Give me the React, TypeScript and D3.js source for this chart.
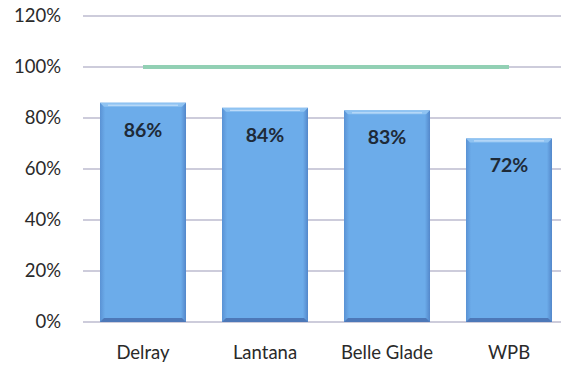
import React from "react";
import * as d3 from "d3";

const categories = ["Delray", "Lantana", "Belle Glade", "WPB"];
const values = [86, 84, 83, 72];
const valueLabels = ["86%", "84%", "83%", "72%"];
const targetValue = 100;
const yTicks = [0, 20, 40, 60, 80, 100, 120];

const W = 561;
const H = 366;
const FONT = "Lato, 'Open Sans', sans-serif";

export default function App() {
  const x = d3.scaleBand<string>().domain(categories).range([82, 570]).paddingInner(0.295).paddingOuter(0.1475);
  const y = d3.scaleLinear().domain([0, 120]).range([322, 16]);
  const bw = x.bandwidth();
  const first = (x(categories[0]) ?? 0) + bw / 2;
  const last = (x(categories[categories.length - 1]) ?? 0) + bw / 2;
  const bev = 4;

  return (
    <svg width={W} height={H} style={{ position: "absolute", left: 0, top: 0, background: "#fff" }}>
      <defs>
        <linearGradient id="barH" x1="0" x2="1" y1="0" y2="0">
          <stop offset="0" stopColor="#5a92d4" />
          <stop offset="0.06" stopColor="#6cacea" />
          <stop offset="0.94" stopColor="#6cacea" />
          <stop offset="1" stopColor="#5387ca" />
        </linearGradient>
      </defs>
      {yTicks.map((t) => (
        <g key={t}>
          <line x1={83} x2={561} y1={y(t)} y2={y(t)} stroke="#9c9ab8" strokeWidth={1.2} />
          <text x={61} y={y(t)} dy="0.35em" textAnchor="end" fontFamily={FONT} fontSize={18.5} fill="#2a2a2a">
            {t}%
          </text>
        </g>
      ))}
      {categories.map((c, i) => {
        const x0 = x(c) ?? 0;
        const y0 = y(values[i]);
        const y1 = y(0);
        return (
          <g key={c}>
            <rect x={x0} y={y0} width={bw} height={y1 - y0} fill="url(#barH)" />
            <polygon
              points={`${x0},${y0} ${x0 + bw},${y0} ${x0 + bw - bev},${y0 + bev} ${x0 + bev},${y0 + bev}`}
              fill="#8fc3f2"
            />
            <line x1={x0 + 8} x2={x0 + bw - 8} y1={y0 + 2.5} y2={y0 + 2.5} stroke="#c9e2fa" strokeWidth={1} />
            <polygon
              points={`${x0},${y1} ${x0 + bw},${y1} ${x0 + bw - bev},${y1 - bev} ${x0 + bev},${y1 - bev}`}
              fill="#4d78b8"
            />
            <text
              x={x0 + bw / 2}
              y={y0 + 27}
              dy="0.35em"
              textAnchor="middle"
              fontFamily={FONT}
              fontWeight="bold"
              fontSize={19.5}
              fill="#1e2a38"
            >
              {valueLabels[i]}
            </text>
            <text x={x0 + bw / 2} y={353} dy="0.35em" textAnchor="middle" fontFamily={FONT} fontSize={18.5} fill="#2a2a2a">
              {c}
            </text>
          </g>
        );
      })}
      <line x1={first} x2={last} y1={y(targetValue)} y2={y(targetValue)} stroke="#92d0b4" strokeWidth={4} />
    </svg>
  );
}
